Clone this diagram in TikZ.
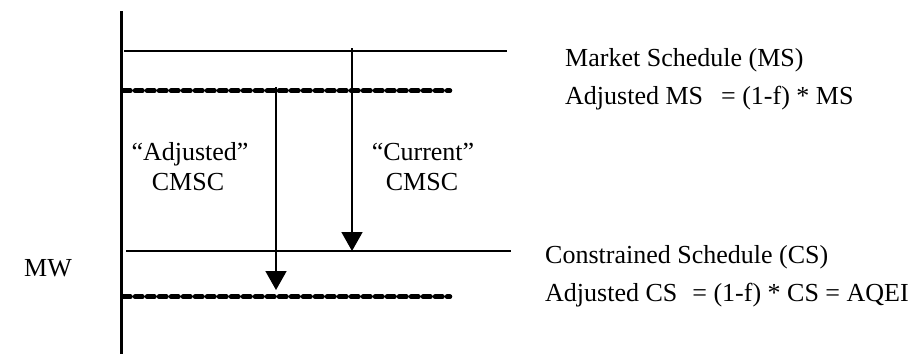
\documentclass[tikz,border=0pt]{standalone}
\usepackage{fontspec}
\setmainfont{Liberation Serif}
\usetikzlibrary{arrows.meta}
\begin{document}
\begin{tikzpicture}[x=1pt,y=-1pt,
  lbl/.style={inner sep=0pt,font=\fontsize{26}{31}\selectfont},
  solidline/.style={line width=1.8pt},
  dotline/.style={line width=4.5pt,line cap=round,dash pattern=on 7.5pt off 4.5pt},
  axis/.style={line width=3.5pt},
  arr/.style={line width=1.8pt,-{Triangle[width=21pt,length=19pt]}}]
\useasboundingbox (0,0) rectangle (913,354);
% axis
\coordinate (axtop) at (121.5,11);
\coordinate (axbot) at (121.5,354);
\draw[axis] (axtop) -- (axbot);
% schedule lines
\coordinate (ms1) at (124,50.7);
\coordinate (ms2) at (507,50.7);
\coordinate (ams1) at (123,90.7);
\coordinate (ams2) at (450,90.7);
\coordinate (cs1) at (126,250.7);
\coordinate (cs2) at (511,250.7);
\coordinate (acs1) at (123,296.7);
\coordinate (acs2) at (450,296.7);
\draw[solidline] (ms1) -- (ms2);
\draw[dotline] (ams1) -- (ams2);
\draw[solidline] (cs1) -- (cs2);
\draw[dotline] (acs1) -- (acs2);
% arrows
\coordinate (cur1) at (352,48);
\coordinate (cur2) at (352,251);
\coordinate (adj1) at (276,87);
\coordinate (adj2) at (276,290);
\draw[arr] (cur1) -- (cur2);
\draw[arr] (adj1) -- (adj2);
% labels
\node[lbl,anchor=base west] (tms) at (565,66) {Market Schedule (MS)};
\node[lbl,anchor=base west] (tams) at (565,104) {Adjusted MS\hspace{18pt}= (1-f) * MS};
\node[lbl,anchor=base west] (tcs) at (545,263) {Constrained Schedule (CS)};
\node[lbl,anchor=base west] (tacs) at (545,301) {Adjusted CS\hspace{15pt}= (1-f) * CS = AQEI};
\node[lbl,anchor=base west] (tmw) at (24,276) {MW};
\node[lbl,anchor=base] (tadj) at (190,160) {“Adjusted”};
\node[lbl,anchor=base] (tadjc) at (188,190) {CMSC};
\node[lbl,anchor=base] (tcur) at (423,160) {“Current”};
\node[lbl,anchor=base] (tcurc) at (422,190) {CMSC};
\end{tikzpicture}
\end{document}
